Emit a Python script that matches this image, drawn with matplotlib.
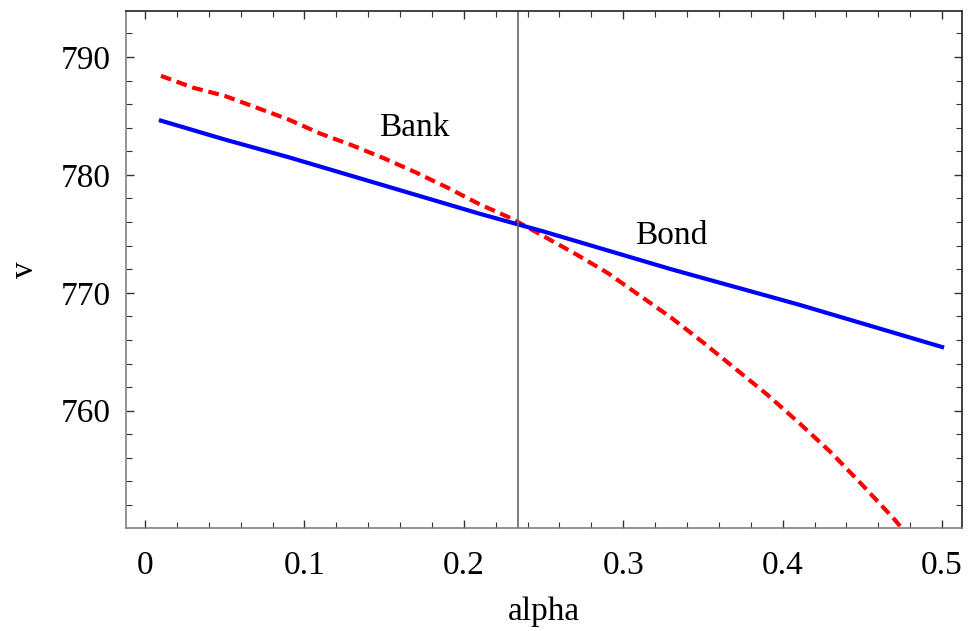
import matplotlib
matplotlib.use("Agg")
import matplotlib.pyplot as plt
from matplotlib.ticker import MultipleLocator

plt.rcParams['font.family'] = ['Liberation Serif', 'DejaVu Serif']

# value of bond vs. bank financing as a function of alpha
alpha_bond = [0.01, 0.05, 0.09, 0.13, 0.17, 0.21, 0.25, 0.29, 0.33, 0.37, 0.41, 0.45, 0.50]
v_bond = [784.6, 783.0, 781.5, 779.9, 778.3, 776.7, 775.2, 773.6, 772.0, 770.5, 769.0, 767.4, 765.4]

alpha_bank = [0.01, 0.03, 0.05, 0.07, 0.09, 0.11, 0.13, 0.15, 0.17, 0.19, 0.21, 0.23,
              0.25, 0.27, 0.29, 0.31, 0.33, 0.35, 0.37, 0.39, 0.41, 0.43, 0.45, 0.47, 0.49]
v_bank = [788.4, 787.4, 786.7, 785.7, 784.7, 783.5, 782.5, 781.4, 780.2, 778.9, 777.5, 776.3,
          774.8, 773.3, 771.7, 769.8, 767.9, 765.8, 763.6, 761.4, 759.0, 756.5, 753.7, 750.8, 747.6]

alpha_cross = 0.234

fig = plt.figure(figsize=(9.68, 6.31), dpi=100)
ax = fig.add_axes([0.1302, 0.1632, 0.8636, 0.8194])

ax.plot(alpha_bank, v_bank, color='#ff0000', lw=3.0, dashes=(2.6, 1.4))
ax.plot(alpha_bond, v_bond, color='#0000ff', lw=3.0)
ax.axvline(alpha_cross, color='#666666', lw=1.2)

ax.text(0.169, 784.0, 'Bank', fontsize=24, ha='center', va='center')
ax.text(0.330, 774.85, 'Bond', fontsize=24, ha='center', va='center')

ax.set_xlim(-0.0119, 0.5125)
ax.set_ylim(750.05, 793.9)
ax.xaxis.set_major_locator(MultipleLocator(0.1))
ax.xaxis.set_minor_locator(MultipleLocator(0.02))
ax.yaxis.set_major_locator(MultipleLocator(10))
ax.yaxis.set_minor_locator(MultipleLocator(2))
ax.set_xticks([0, 0.1, 0.2, 0.3, 0.4, 0.5])
ax.set_xticklabels(['0', '0.1', '0.2', '0.3', '0.4', '0.5'])

ax.tick_params(which='both', direction='in', top=True, right=True,
               labelsize=24, color='#333333')
ax.tick_params(axis='x', which='both', pad=16)
ax.tick_params(axis='y', which='both', pad=11)
ax.tick_params(which='major', length=6, width=1)
ax.tick_params(which='minor', length=4, width=0.8)

for side in ['left', 'bottom']:
    ax.spines[side].set_color('#808080')
for side in ['top', 'right']:
    ax.spines[side].set_color('#222222')
for sp in ax.spines.values():
    sp.set_linewidth(1.2)

ax.set_xlabel('alpha', fontsize=24, labelpad=11)
ax.set_ylabel('v', fontsize=24, labelpad=15)

fig.savefig('out.png', dpi=100)
